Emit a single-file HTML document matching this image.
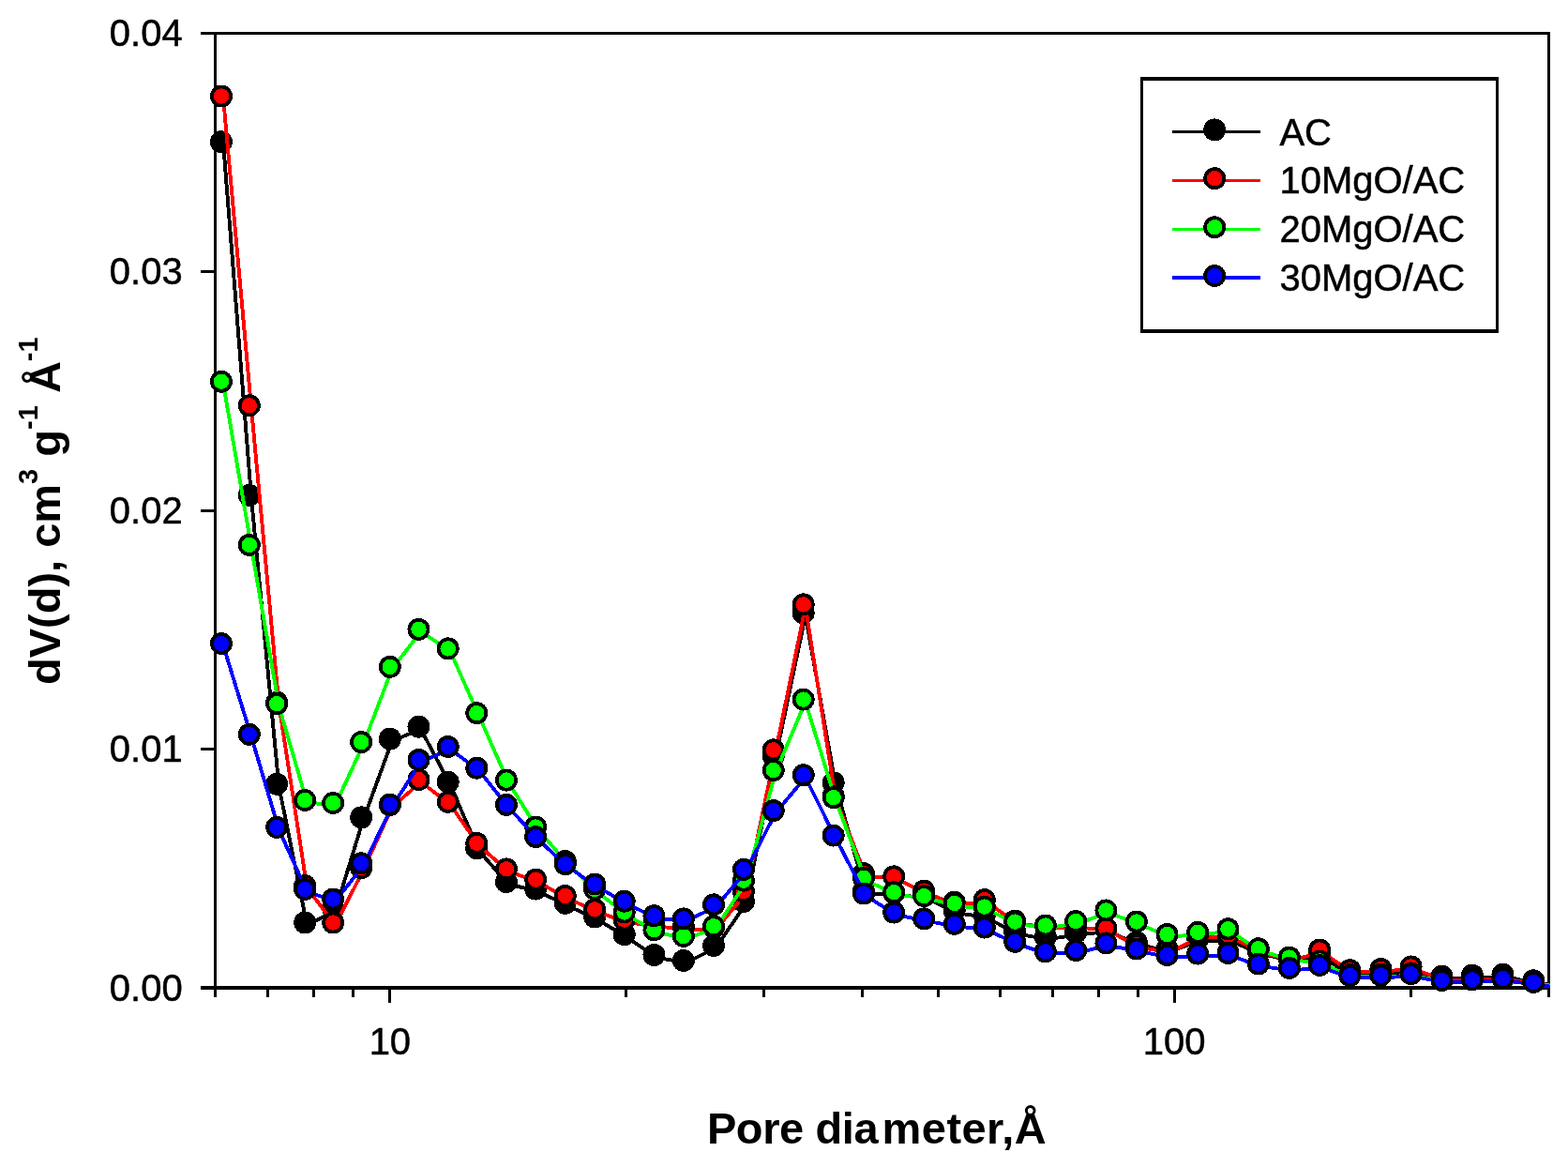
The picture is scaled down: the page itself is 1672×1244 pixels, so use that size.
<!DOCTYPE html>
<html lang="en"><head><meta charset="utf-8"><title>Pore size distribution</title>
<style>html,body{margin:0;padding:0;background:#fff;}body{width:1672px;height:1244px;overflow:hidden;}svg{display:block;}text{font-family:"Liberation Sans",sans-serif;fill:#000;}</style>
</head><body>
<svg width="1672" height="1244" viewBox="0 0 1672 1244" role="img" aria-label="Pore size distribution: dV(d) versus pore diameter for AC, 10MgO/AC, 20MgO/AC and 30MgO/AC">
<rect x="0" y="0" width="1672" height="1244" fill="#ffffff"/>
<defs><clipPath id="plotclip"><rect x="200" y="0" width="1453" height="1244"/></clipPath></defs>
<g fill="#000" shape-rendering="crispEdges">
<rect x="214.00" y="34.00" width="1439.00" height="3.00"/>
<rect x="214.00" y="1051.00" width="1439.00" height="4.00"/>
<rect x="228.00" y="34.00" width="3.00" height="1029.00"/>
<rect x="1650.00" y="34.00" width="3.00" height="1029.00"/>
<rect x="214.00" y="797.00" width="15.00" height="3.00"/>
<rect x="214.00" y="543.00" width="15.00" height="3.00"/>
<rect x="214.00" y="288.00" width="15.00" height="3.00"/>
<rect x="414.00" y="1053.00" width="3.00" height="16.00"/>
<rect x="1251.00" y="1053.00" width="3.00" height="16.00"/>
<rect x="284.00" y="1053.00" width="3.00" height="10.00"/>
<rect x="333.00" y="1053.00" width="3.00" height="10.00"/>
<rect x="375.00" y="1053.00" width="3.00" height="10.00"/>
<rect x="666.00" y="1053.00" width="3.00" height="10.00"/>
<rect x="813.00" y="1053.00" width="3.00" height="10.00"/>
<rect x="918.00" y="1053.00" width="3.00" height="10.00"/>
<rect x="999.00" y="1053.00" width="3.00" height="10.00"/>
<rect x="1065.00" y="1053.00" width="3.00" height="10.00"/>
<rect x="1121.00" y="1053.00" width="3.00" height="10.00"/>
<rect x="1170.00" y="1053.00" width="3.00" height="10.00"/>
<rect x="1212.00" y="1053.00" width="3.00" height="10.00"/>
<rect x="1503.00" y="1053.00" width="3.00" height="10.00"/>
</g>
<g font-size="40px" stroke="#000" stroke-width="0.5">
<text x="194.7" y="1066.60" text-anchor="end">0.00</text>
<text x="194.7" y="812.23" text-anchor="end">0.01</text>
<text x="194.7" y="557.85" text-anchor="end">0.02</text>
<text x="194.7" y="303.48" text-anchor="end">0.03</text>
<text x="194.7" y="49.10" text-anchor="end">0.04</text>
<text x="415.88" y="1123.8" text-anchor="middle">10</text>
<text x="1252.06" y="1123.8" text-anchor="middle">100</text>
</g>
<text x="753.9" y="1218.6" font-size="47px" font-weight="bold" letter-spacing="-0.4">Pore dia<tspan x="940.6" letter-spacing="0.45">meter,Å</tspan></text>
<text transform="translate(64,730) rotate(-90)" font-size="47px" font-weight="bold">dV(d), cm<tspan font-size="29px" dy="-24">3</tspan><tspan dy="24"> g</tspan><tspan font-size="29px" dy="-24">-1</tspan><tspan dy="24"> Å</tspan><tspan font-size="29px" dy="-24">-1</tspan></text>
<g clip-path="url(#plotclip)" shape-rendering="crispEdges">
<polyline points="238.15,153.70 268.00,530.35 297.40,838.15 327.40,985.95 357.40,970.95 387.40,873.80 418.00,790.05 448.65,777.15 479.90,836.05 510.50,906.80 542.15,942.55 573.40,950.05 604.90,965.20 636.40,979.95 667.90,998.70 699.65,1020.45 731.00,1026.45 763.20,1010.45 795.15,963.55 826.90,808.45 858.90,655.90 890.90,836.80 923.15,952.05 955.40,954.05 987.40,957.05 1019.90,973.05 1052.00,978.05 1084.40,995.55 1117.00,1001.20 1149.40,996.45 1181.60,992.95 1214.10,1006.85 1246.70,1014.45 1279.40,1002.95 1311.70,1002.95 1344.00,1016.45 1377.00,1024.45 1409.40,1020.45 1441.60,1039.45 1474.60,1038.45 1506.80,1037.45 1539.70,1043.05 1572.10,1042.05 1604.60,1041.05 1637.40,1047.75 1670.00,1051.45" fill="none" stroke="#000000" stroke-width="3.90" stroke-linejoin="round"/>
<g fill="#000000" stroke="#000" stroke-width="3.75">
<circle cx="235.95" cy="151.25" r="10.10"/>
<circle cx="265.80" cy="527.90" r="10.10"/>
<circle cx="295.20" cy="835.70" r="10.10"/>
<circle cx="325.20" cy="983.50" r="10.10"/>
<circle cx="355.20" cy="968.50" r="10.10"/>
<circle cx="385.20" cy="871.35" r="10.10"/>
<circle cx="415.80" cy="787.60" r="10.10"/>
<circle cx="446.45" cy="774.70" r="10.10"/>
<circle cx="477.70" cy="833.60" r="10.10"/>
<circle cx="508.30" cy="904.35" r="10.10"/>
<circle cx="539.95" cy="940.10" r="10.10"/>
<circle cx="571.20" cy="947.60" r="10.10"/>
<circle cx="602.70" cy="962.75" r="10.10"/>
<circle cx="634.20" cy="977.50" r="10.10"/>
<circle cx="665.70" cy="996.25" r="10.10"/>
<circle cx="697.45" cy="1018.00" r="10.10"/>
<circle cx="728.80" cy="1024.00" r="10.10"/>
<circle cx="761.00" cy="1008.00" r="10.10"/>
<circle cx="792.95" cy="961.10" r="10.10"/>
<circle cx="824.70" cy="806.00" r="10.10"/>
<circle cx="856.70" cy="653.45" r="10.10"/>
<circle cx="888.70" cy="834.35" r="10.10"/>
<circle cx="920.95" cy="949.60" r="10.10"/>
<circle cx="953.20" cy="951.60" r="10.10"/>
<circle cx="985.20" cy="954.60" r="10.10"/>
<circle cx="1017.70" cy="970.60" r="10.10"/>
<circle cx="1049.80" cy="975.60" r="10.10"/>
<circle cx="1082.20" cy="993.10" r="10.10"/>
<circle cx="1114.80" cy="998.75" r="10.10"/>
<circle cx="1147.20" cy="994.00" r="10.10"/>
<circle cx="1179.40" cy="990.50" r="10.10"/>
<circle cx="1211.90" cy="1004.40" r="10.10"/>
<circle cx="1244.50" cy="1012.00" r="10.10"/>
<circle cx="1277.20" cy="1000.50" r="10.10"/>
<circle cx="1309.50" cy="1000.50" r="10.10"/>
<circle cx="1341.80" cy="1014.00" r="10.10"/>
<circle cx="1374.80" cy="1022.00" r="10.10"/>
<circle cx="1407.20" cy="1018.00" r="10.10"/>
<circle cx="1439.40" cy="1037.00" r="10.10"/>
<circle cx="1472.40" cy="1036.00" r="10.10"/>
<circle cx="1504.60" cy="1035.00" r="10.10"/>
<circle cx="1537.50" cy="1040.60" r="10.10"/>
<circle cx="1569.90" cy="1039.60" r="10.10"/>
<circle cx="1602.40" cy="1038.60" r="10.10"/>
<circle cx="1635.20" cy="1045.30" r="10.10"/>
<circle cx="1667.80" cy="1049.00" r="10.10"/>
</g>
<polyline points="238.15,104.95 268.00,434.75 297.40,751.05 327.40,946.45 357.40,985.95 387.40,927.75 418.00,860.55 448.65,833.55 479.90,857.30 510.50,901.25 542.15,928.80 573.40,940.05 604.90,957.45 636.40,971.85 667.90,982.95 699.65,987.45 731.00,990.45 763.20,990.95 795.15,952.55 826.90,801.80 858.90,646.80 890.90,851.05 923.15,933.55 955.40,936.80 987.40,952.05 1019.90,964.05 1052.00,961.55 1084.40,984.05 1117.00,988.95 1149.40,988.45 1181.60,991.85 1214.10,1009.45 1246.70,1015.45 1279.40,998.95 1311.70,998.95 1344.00,1014.95 1377.00,1023.95 1409.40,1014.95 1441.60,1036.65 1474.60,1035.45 1506.80,1032.85 1539.70,1044.45 1572.10,1044.45 1604.60,1043.95 1637.40,1048.45 1670.00,1051.45" fill="none" stroke="#ff0000" stroke-width="3.90" stroke-linejoin="round"/>
<g fill="#ff0000" stroke="#000" stroke-width="3.75">
<circle cx="235.95" cy="102.50" r="10.10"/>
<circle cx="265.80" cy="432.30" r="10.10"/>
<circle cx="295.20" cy="748.60" r="10.10"/>
<circle cx="325.20" cy="944.00" r="10.10"/>
<circle cx="355.20" cy="983.50" r="10.10"/>
<circle cx="385.20" cy="925.30" r="10.10"/>
<circle cx="415.80" cy="858.10" r="10.10"/>
<circle cx="446.45" cy="831.10" r="10.10"/>
<circle cx="477.70" cy="854.85" r="10.10"/>
<circle cx="508.30" cy="898.80" r="10.10"/>
<circle cx="539.95" cy="926.35" r="10.10"/>
<circle cx="571.20" cy="937.60" r="10.10"/>
<circle cx="602.70" cy="955.00" r="10.10"/>
<circle cx="634.20" cy="969.40" r="10.10"/>
<circle cx="665.70" cy="980.50" r="10.10"/>
<circle cx="697.45" cy="985.00" r="10.10"/>
<circle cx="728.80" cy="988.00" r="10.10"/>
<circle cx="761.00" cy="988.50" r="10.10"/>
<circle cx="792.95" cy="950.10" r="10.10"/>
<circle cx="824.70" cy="799.35" r="10.10"/>
<circle cx="856.70" cy="644.35" r="10.10"/>
<circle cx="888.70" cy="848.60" r="10.10"/>
<circle cx="920.95" cy="931.10" r="10.10"/>
<circle cx="953.20" cy="934.35" r="10.10"/>
<circle cx="985.20" cy="949.60" r="10.10"/>
<circle cx="1017.70" cy="961.60" r="10.10"/>
<circle cx="1049.80" cy="959.10" r="10.10"/>
<circle cx="1082.20" cy="981.60" r="10.10"/>
<circle cx="1114.80" cy="986.50" r="10.10"/>
<circle cx="1147.20" cy="986.00" r="10.10"/>
<circle cx="1179.40" cy="989.40" r="10.10"/>
<circle cx="1211.90" cy="1007.00" r="10.10"/>
<circle cx="1244.50" cy="1013.00" r="10.10"/>
<circle cx="1277.20" cy="996.50" r="10.10"/>
<circle cx="1309.50" cy="996.50" r="10.10"/>
<circle cx="1341.80" cy="1012.50" r="10.10"/>
<circle cx="1374.80" cy="1021.50" r="10.10"/>
<circle cx="1407.20" cy="1012.50" r="10.10"/>
<circle cx="1439.40" cy="1034.20" r="10.10"/>
<circle cx="1472.40" cy="1033.00" r="10.10"/>
<circle cx="1504.60" cy="1030.40" r="10.10"/>
<circle cx="1537.50" cy="1042.00" r="10.10"/>
<circle cx="1569.90" cy="1042.00" r="10.10"/>
<circle cx="1602.40" cy="1041.50" r="10.10"/>
<circle cx="1635.20" cy="1046.00" r="10.10"/>
<circle cx="1667.80" cy="1049.00" r="10.10"/>
</g>
<polyline points="238.15,409.20 268.00,583.35 297.40,752.55 327.40,855.45 357.40,858.45 387.40,793.50 418.00,713.30 448.65,673.30 479.90,693.80 510.50,762.55 542.15,834.05 573.40,883.95 604.90,920.45 636.40,950.45 667.90,974.95 699.65,993.70 731.00,1000.45 763.20,989.70 795.15,941.05 826.90,823.55 858.90,748.05 890.90,852.65 923.15,938.25 955.40,953.65 987.40,957.55 1019.90,965.30 1052.00,969.05 1084.40,985.05 1117.00,988.95 1149.40,984.45 1181.60,972.85 1214.10,984.95 1246.70,998.45 1279.40,996.20 1311.70,992.75 1344.00,1013.70 1377.00,1023.05 1409.40,1026.95 1441.60,1041.45 1474.60,1041.20 1506.80,1039.85 1539.70,1046.45 1572.10,1046.45 1604.60,1045.95 1637.40,1048.95 1670.00,1052.45" fill="none" stroke="#00ff00" stroke-width="3.90" stroke-linejoin="round"/>
<g fill="#00ff00" stroke="#000" stroke-width="3.75">
<circle cx="235.95" cy="406.75" r="10.10"/>
<circle cx="265.80" cy="580.90" r="10.10"/>
<circle cx="295.20" cy="750.10" r="10.10"/>
<circle cx="325.20" cy="853.00" r="10.10"/>
<circle cx="355.20" cy="856.00" r="10.10"/>
<circle cx="385.20" cy="791.05" r="10.10"/>
<circle cx="415.80" cy="710.85" r="10.10"/>
<circle cx="446.45" cy="670.85" r="10.10"/>
<circle cx="477.70" cy="691.35" r="10.10"/>
<circle cx="508.30" cy="760.10" r="10.10"/>
<circle cx="539.95" cy="831.60" r="10.10"/>
<circle cx="571.20" cy="881.50" r="10.10"/>
<circle cx="602.70" cy="918.00" r="10.10"/>
<circle cx="634.20" cy="948.00" r="10.10"/>
<circle cx="665.70" cy="972.50" r="10.10"/>
<circle cx="697.45" cy="991.25" r="10.10"/>
<circle cx="728.80" cy="998.00" r="10.10"/>
<circle cx="761.00" cy="987.25" r="10.10"/>
<circle cx="792.95" cy="938.60" r="10.10"/>
<circle cx="824.70" cy="821.10" r="10.10"/>
<circle cx="856.70" cy="745.60" r="10.10"/>
<circle cx="888.70" cy="850.20" r="10.10"/>
<circle cx="920.95" cy="935.80" r="10.10"/>
<circle cx="953.20" cy="951.20" r="10.10"/>
<circle cx="985.20" cy="955.10" r="10.10"/>
<circle cx="1017.70" cy="962.85" r="10.10"/>
<circle cx="1049.80" cy="966.60" r="10.10"/>
<circle cx="1082.20" cy="982.60" r="10.10"/>
<circle cx="1114.80" cy="986.50" r="10.10"/>
<circle cx="1147.20" cy="982.00" r="10.10"/>
<circle cx="1179.40" cy="970.40" r="10.10"/>
<circle cx="1211.90" cy="982.50" r="10.10"/>
<circle cx="1244.50" cy="996.00" r="10.10"/>
<circle cx="1277.20" cy="993.75" r="10.10"/>
<circle cx="1309.50" cy="990.30" r="10.10"/>
<circle cx="1341.80" cy="1011.25" r="10.10"/>
<circle cx="1374.80" cy="1020.60" r="10.10"/>
<circle cx="1407.20" cy="1024.50" r="10.10"/>
<circle cx="1439.40" cy="1039.00" r="10.10"/>
<circle cx="1472.40" cy="1038.75" r="10.10"/>
<circle cx="1504.60" cy="1037.40" r="10.10"/>
<circle cx="1537.50" cy="1044.00" r="10.10"/>
<circle cx="1569.90" cy="1044.00" r="10.10"/>
<circle cx="1602.40" cy="1043.50" r="10.10"/>
<circle cx="1635.20" cy="1046.50" r="10.10"/>
<circle cx="1667.80" cy="1050.00" r="10.10"/>
</g>
<polyline points="238.15,688.45 268.00,785.25 297.40,884.30 327.40,950.45 357.40,960.95 387.40,922.75 418.00,860.05 448.65,812.45 479.90,798.45 510.50,821.15 542.15,860.35 573.40,894.55 604.90,923.65 636.40,944.95 667.90,963.15 699.65,978.70 731.00,981.85 763.20,966.85 795.15,929.30 826.90,866.55 858.90,828.65 890.90,893.05 923.15,954.95 955.40,975.05 987.40,981.80 1019.90,987.30 1052.00,991.05 1084.40,1006.25 1117.00,1016.85 1149.40,1015.55 1181.60,1007.85 1214.10,1013.95 1246.70,1020.55 1279.40,1019.05 1311.70,1018.45 1344.00,1029.95 1377.00,1034.45 1409.40,1031.45 1441.60,1042.45 1474.60,1042.15 1506.80,1040.65 1539.70,1047.45 1572.10,1046.85 1604.60,1045.45 1637.40,1049.45 1670.00,1053.95" fill="none" stroke="#0000ff" stroke-width="3.90" stroke-linejoin="round"/>
<g fill="#0000ff" stroke="#000" stroke-width="3.75">
<circle cx="235.95" cy="686.00" r="10.10"/>
<circle cx="265.80" cy="782.80" r="10.10"/>
<circle cx="295.20" cy="881.85" r="10.10"/>
<circle cx="325.20" cy="948.00" r="10.10"/>
<circle cx="355.20" cy="958.50" r="10.10"/>
<circle cx="385.20" cy="920.30" r="10.10"/>
<circle cx="415.80" cy="857.60" r="10.10"/>
<circle cx="446.45" cy="810.00" r="10.10"/>
<circle cx="477.70" cy="796.00" r="10.10"/>
<circle cx="508.30" cy="818.70" r="10.10"/>
<circle cx="539.95" cy="857.90" r="10.10"/>
<circle cx="571.20" cy="892.10" r="10.10"/>
<circle cx="602.70" cy="921.20" r="10.10"/>
<circle cx="634.20" cy="942.50" r="10.10"/>
<circle cx="665.70" cy="960.70" r="10.10"/>
<circle cx="697.45" cy="976.25" r="10.10"/>
<circle cx="728.80" cy="979.40" r="10.10"/>
<circle cx="761.00" cy="964.40" r="10.10"/>
<circle cx="792.95" cy="926.85" r="10.10"/>
<circle cx="824.70" cy="864.10" r="10.10"/>
<circle cx="856.70" cy="826.20" r="10.10"/>
<circle cx="888.70" cy="890.60" r="10.10"/>
<circle cx="920.95" cy="952.50" r="10.10"/>
<circle cx="953.20" cy="972.60" r="10.10"/>
<circle cx="985.20" cy="979.35" r="10.10"/>
<circle cx="1017.70" cy="984.85" r="10.10"/>
<circle cx="1049.80" cy="988.60" r="10.10"/>
<circle cx="1082.20" cy="1003.80" r="10.10"/>
<circle cx="1114.80" cy="1014.40" r="10.10"/>
<circle cx="1147.20" cy="1013.10" r="10.10"/>
<circle cx="1179.40" cy="1005.40" r="10.10"/>
<circle cx="1211.90" cy="1011.50" r="10.10"/>
<circle cx="1244.50" cy="1018.10" r="10.10"/>
<circle cx="1277.20" cy="1016.60" r="10.10"/>
<circle cx="1309.50" cy="1016.00" r="10.10"/>
<circle cx="1341.80" cy="1027.50" r="10.10"/>
<circle cx="1374.80" cy="1032.00" r="10.10"/>
<circle cx="1407.20" cy="1029.00" r="10.10"/>
<circle cx="1439.40" cy="1040.00" r="10.10"/>
<circle cx="1472.40" cy="1039.70" r="10.10"/>
<circle cx="1504.60" cy="1038.20" r="10.10"/>
<circle cx="1537.50" cy="1045.00" r="10.10"/>
<circle cx="1569.90" cy="1044.40" r="10.10"/>
<circle cx="1602.40" cy="1043.00" r="10.10"/>
<circle cx="1635.20" cy="1047.00" r="10.10"/>
<circle cx="1667.80" cy="1051.50" r="10.10"/>
</g>
</g>
<g fill="#000" shape-rendering="crispEdges">
<rect x="1216.00" y="82.00" width="382.00" height="4.00"/>
<rect x="1216.00" y="351.00" width="382.00" height="4.00"/>
<rect x="1216.00" y="82.00" width="3.00" height="273.00"/>
<rect x="1595.00" y="82.00" width="3.00" height="273.00"/>
</g>
<g font-size="40px">
<rect x="1250" y="139" width="94" height="3" fill="#000000" shape-rendering="crispEdges"/>
<circle cx="1295.2" cy="138.40" r="10.10" fill="#000000" stroke="#000" stroke-width="3.75" shape-rendering="crispEdges"/>
<text x="1364.4" y="154.50" stroke="#000" stroke-width="0.5">AC</text>
<rect x="1250" y="191" width="94" height="3" fill="#ff0000" shape-rendering="crispEdges"/>
<circle cx="1295.2" cy="190.20" r="10.10" fill="#ff0000" stroke="#000" stroke-width="3.75" shape-rendering="crispEdges"/>
<text x="1364.4" y="206.25" stroke="#000" stroke-width="0.5">10MgO/AC</text>
<rect x="1250" y="243" width="94" height="3" fill="#00ff00" shape-rendering="crispEdges"/>
<circle cx="1295.2" cy="242.30" r="10.10" fill="#00ff00" stroke="#000" stroke-width="3.75" shape-rendering="crispEdges"/>
<text x="1364.4" y="258.00" stroke="#000" stroke-width="0.5">20MgO/AC</text>
<rect x="1250" y="294" width="94" height="4" fill="#0000ff" shape-rendering="crispEdges"/>
<circle cx="1295.2" cy="294.00" r="10.10" fill="#0000ff" stroke="#000" stroke-width="3.75" shape-rendering="crispEdges"/>
<text x="1364.4" y="310.00" stroke="#000" stroke-width="0.5">30MgO/AC</text>
</g>
</svg></body></html>
